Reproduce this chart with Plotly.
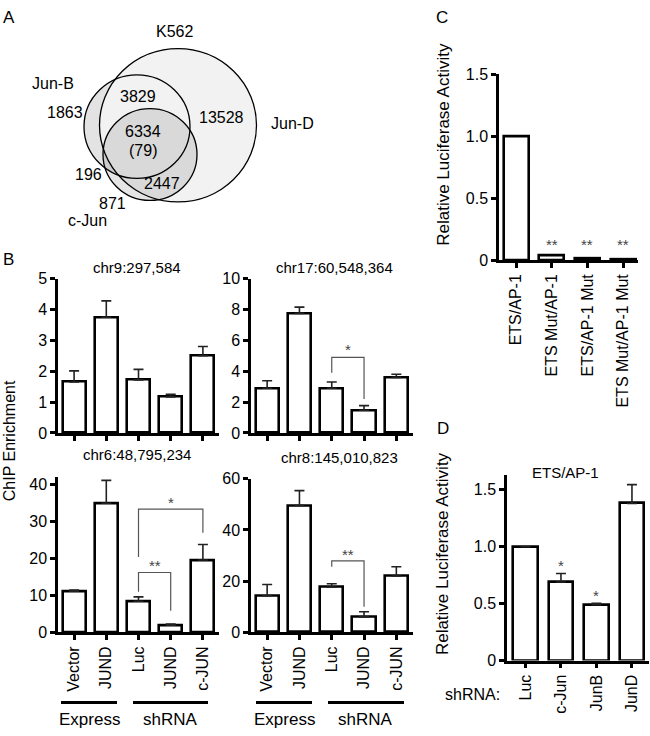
import plotly.graph_objects as go

W, H = 650, 736
FONT = "Liberation Sans, Arial, sans-serif"

# ---------------- data ----------------
venn_set_names = ["Jun-B", "Jun-D", "c-Jun"]
venn_title = "K562"
venn_region_counts = ["1863", "3829", "13528", "6334", "(79)", "196", "2447", "871"]

chip_categories = ["Vector", "JUND", "Luc", "JUND", "c-JUN"]
chip_groups = ["Express", "shRNA"]

chr9_title = "chr9:297,584"
chr9_values = [1.65, 3.75, 1.72, 1.17, 2.50]
chr9_err = [0.36, 0.53, 0.34, 0.08, 0.30]

chr17_title = "chr17:60,548,364"
chr17_values = [2.9, 7.75, 2.9, 1.47, 3.6]
chr17_err = [0.48, 0.40, 0.40, 0.30, 0.20]

chr6_title = "chr6:48,795,234"
chr6_values = [11.1, 35.0, 8.4, 1.9, 19.6]
chr6_err = [0.35, 6.2, 1.2, 0.3, 4.2]

chr8_title = "chr8:145,010,823"
chr8_values = [14.3, 49.6, 17.7, 6.0, 22.0]
chr8_err = [4.4, 5.8, 1.3, 2.0, 3.6]

luc_c_categories = ["ETS/AP-1", "ETS Mut/AP-1", "ETS/AP-1 Mut", "ETS Mut/AP-1 Mut"]
luc_c_values = [1.0, 0.035, 0.015, 0.008]
luc_c_sig = ["", "**", "**", "**"]

luc_d_title = "ETS/AP-1"
luc_d_categories = ["Luc", "c-Jun", "JunB", "JunD"]
luc_d_values = [1.0, 0.69, 0.49, 1.38]
luc_d_err = [0.0, 0.075, 0.012, 0.165]
luc_d_sig = ["", "*", "*", ""]

y_label_chip = "ChIP Enrichment"
y_label_luc = "Relative Luciferase Activity"


# ---------------- helpers ----------------
def px(x):
    return x / W


def py(y):
    return 1 - y / H


def dom_x(x0, x1):
    return [x0 / W, x1 / W]


def dom_y(ytop, ybot):
    return [1 - ybot / H, 1 - ytop / H]


fig = go.Figure()
annotations = []
shapes = []
SIG_COLOR = "#444"

axis_common = dict(showline=True, linewidth=2.5, linecolor="black", ticks="outside",
                   ticklen=5, tickwidth=2.5, tickcolor="black", showgrid=False,
                   zeroline=False, fixedrange=True,
                   tickfont=dict(family=FONT, size=16, color="black"))


def add_bar_panel(idx, xdom, ydom, xrange, yrange, yticks, yticktext, cats, vals, err,
                  show_labels, width=0.72):
    xa = "x" if idx == 1 else f"x{idx}"
    ya = "y" if idx == 1 else f"y{idx}"
    xs = list(range(len(cats)))
    bar_kwargs = dict(x=xs, y=vals, width=width, xaxis=xa, yaxis=ya,
                      marker=dict(color="white", line=dict(color="black", width=2.6)),
                      showlegend=False, hoverinfo="skip")
    if err is not None:
        bar_kwargs["error_y"] = dict(type="data", array=err, arrayminus=[0] * len(err),
                                     symmetric=False, color="#222", thickness=1.6, width=5)
    fig.add_trace(go.Bar(**bar_kwargs))
    xkey = "xaxis" if idx == 1 else f"xaxis{idx}"
    ykey = "yaxis" if idx == 1 else f"yaxis{idx}"
    fig.update_layout(**{
        xkey: dict(axis_common, domain=dom_x(*xdom), range=xrange, anchor=ya,
                   tickvals=xs, ticktext=cats, showticklabels=show_labels, tickangle=-90),
        ykey: dict(axis_common, domain=dom_y(*ydom), range=yrange, anchor=xa,
                   tickvals=yticks, ticktext=yticktext),
    })
    return xa, ya


def bracket(xa, ya, x0, x1, ytop, yl, yr, label, ylab):
    fig.add_trace(go.Scatter(x=[x0, x0, x1, x1], y=[yl, ytop, ytop, yr], mode="lines",
                             line=dict(color="#555", width=1.2), xaxis=xa, yaxis=ya,
                             showlegend=False, hoverinfo="skip"))
    annotations.append(dict(x=(x0 + x1) / 2, y=ylab, xref=xa, yref=ya, text=label,
                            xanchor="center", yanchor="middle",
                            showarrow=False, font=dict(family=FONT, size=15, color=SIG_COLOR)))


# ---------------- panel B ----------------
xa1, ya1 = add_bar_panel(1, (58, 219), (277, 435), [-0.5, 4.5], [0, 5], [0, 1, 2, 3, 4, 5],
                         None, chip_categories, chr9_values, chr9_err, False)
xa2, ya2 = add_bar_panel(2, (251, 412.5), (277, 435), [-0.5, 4.5], [0, 10], [0, 2, 4, 6, 8, 10],
                         None, chip_categories, chr17_values, chr17_err, False)
xa3, ya3 = add_bar_panel(3, (58, 219), (480.5, 639), [-0.5, 4.5], [0, 42], [0, 10, 20, 30, 40],
                         None, chip_categories, chr6_values, chr6_err, True)
xa4, ya4 = add_bar_panel(4, (251, 412.5), (482, 639), [-0.5, 4.5], [0, 60], [0, 20, 40, 60],
                         None, chip_categories, chr8_values, chr8_err, True)

bracket(xa2, ya2, 2, 3, 4.9, 3.9, 2.2, "*", 5.4)
bracket(xa3, ya3, 2, 3, 16.2, 11.0, 5.8, "**", 18.0)
bracket(xa3, ya3, 2, 4, 33.4, 20.4, 27.0, "*", 35.2)
bracket(xa4, ya4, 2, 3, 27.9, 25.6, 10.0, "**", 30.6)

# ---------------- panel C ----------------
xa5, ya5 = add_bar_panel(5, (499, 638), (68, 258), [-0.48, 3.42], [0, 1.5], [0, 0.5, 1.0, 1.5],
                         ["0", "0.5", "1.0", "1.5"], luc_c_categories, luc_c_values, None, True,
                         width=0.7)
for i, s in enumerate(luc_c_sig):
    if s:
        annotations.append(dict(x=i, y=0.125, xref=xa5, yref=ya5, text=s, showarrow=False,
                                xanchor="center", yanchor="middle",
                                font=dict(family=FONT, size=15, color=SIG_COLOR)))

# ---------------- panel D ----------------
xa6, ya6 = add_bar_panel(6, (507, 649), (478, 668), [-0.52, 3.48], [0, 1.63], [0, 0.5, 1.0, 1.5],
                         ["0", "0.5", "1.0", "1.5"], luc_d_categories, luc_d_values, luc_d_err,
                         True, width=0.7)
for i, s in enumerate(luc_d_sig):
    if s:
        annotations.append(dict(x=i, y=luc_d_values[i] + luc_d_err[i] + 0.07, xref=xa6, yref=ya6,
                                text=s, showarrow=False, xanchor="center", yanchor="middle",
                                font=dict(family=FONT, size=15, color=SIG_COLOR)))

# ---------------- panel A (Venn) ----------------
venn_circles = [  # (cx, cy, r) in pixels
    (137, 121.5, 53),   # Jun-B
    (178, 120, 78.5),   # Jun-D
    (150, 150, 47),     # c-Jun
]
venn_fills = ["#e3e3e3", "#f2f2f2", "rgba(0,0,0,0.10)"]
for (cx, cy, r), fc in zip(venn_circles, venn_fills):
    shapes.append(dict(type="circle", xref="paper", yref="paper", x0=px(cx - r), x1=px(cx + r),
                       y0=py(cy + r), y1=py(cy - r), fillcolor=fc,
                       line=dict(width=0), layer="below"))
for (cx, cy, r) in venn_circles:
    shapes.append(dict(type="circle", xref="paper", yref="paper", x0=px(cx - r), x1=px(cx + r),
                       y0=py(cy + r), y1=py(cy - r), fillcolor="rgba(0,0,0,0)",
                       line=dict(color="black", width=1.3), layer="below"))


# ---------------- texts ----------------
def text_px(x, y, t, size=16, angle=0, color="black"):
    annotations.append(dict(x=px(x), y=py(y), xref="paper", yref="paper", text=t,
                            showarrow=False, textangle=angle, xanchor="center", yanchor="middle",
                            font=dict(family=FONT, size=size, color=color)))


venn_set_pos = [(53, 77), (292, 118), (87, 218)]
for name, (x, y) in zip(venn_set_names, venn_set_pos):
    text_px(x, y, name, 16)
text_px(174, 24, venn_title, 16)
venn_region_pos = [(65, 107), (138, 91), (222, 112), (143, 126), (143, 146), (88, 170),
                   (162, 180), (112, 200)]
for txt, (x, y) in zip(venn_region_counts, venn_region_pos):
    text_px(x, y, txt, 16)

text_px(9, 10, "A", 17)
text_px(8, 257, "B", 17)
text_px(442, 10, "C", 17)
text_px(443, 430, "D", 17)

text_px(137, 266, chr9_title, 15)
text_px(334, 266, chr17_title, 15)
text_px(137, 457, chr6_title, 15)
text_px(339, 460, chr8_title, 15)
text_px(565, 475, luc_d_title, 15)

text_px(9.5, 443, y_label_chip, 16, -90)
text_px(444, 139, y_label_luc, 17, -90)
text_px(442, 559, y_label_luc, 17, -90)
text_px(472, 703, "shRNA:", 16)

# group lines and labels under panel B bottom
group_lines = [(61, 117), (133, 208), (256, 312), (328, 404)]
group_label_x = [89, 170, 284, 366]
for (x0, x1) in group_lines:
    shapes.append(dict(type="line", xref="paper", yref="paper", x0=px(x0), x1=px(x1),
                       y0=py(711), y1=py(711), line=dict(color="black", width=3)))
for i, gx in enumerate(group_label_x):
    text_px(gx, 728, chip_groups[i % 2], 17)

fig.update_layout(width=W, height=H, margin=dict(l=0, r=0, t=0, b=0),
                  paper_bgcolor="white", plot_bgcolor="rgba(0,0,0,0)",
                  annotations=annotations, shapes=shapes, bargap=0,
                  font=dict(family=FONT, size=16, color="black"))

fig.write_html("out.html", config={"displayModeBar": False},
               post_script="document.body.style.margin='0';document.body.style.padding='0';"
                           "document.body.style.overflow='hidden';")
